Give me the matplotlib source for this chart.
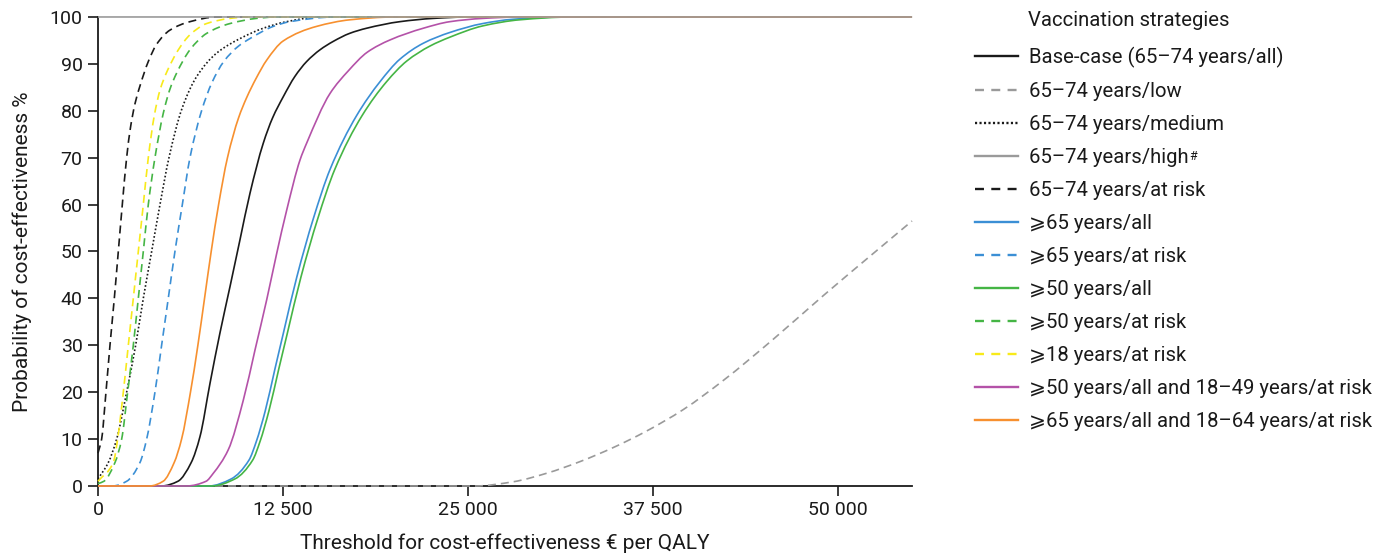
import matplotlib
matplotlib.use("Agg")
import numpy as np
import matplotlib.pyplot as plt
from matplotlib.lines import Line2D
from matplotlib.path import Path
from matplotlib.patches import PathPatch

plt.rcParams['font.family'] = ['Roboto', 'DejaVu Sans']

# ---- data (threshold € per QALY, probability %) ----
base_x = [0, 4300, 5400, 6300, 6890, 7570, 8240, 8920, 9595, 10270, 11170, 11800, 12520, 13300, 14100, 15000, 15900, 17000, 18150, 20400, 22660, 25000, 55000]
base_y = [0, 0, 1, 5, 10.5, 21.9, 32.6, 42.5, 52.5, 62.4, 73.1, 78.5, 83, 87.3, 90.5, 93, 94.8, 96.5, 97.6, 99, 99.7, 100, 100]

low_x = [0, 25500, 28060, 30300, 32570, 34820, 37000, 39550, 42250, 45630, 49010, 52390, 55000]
low_y = [0, 0, 0.9, 2.7, 5.2, 8.2, 11.6, 16.3, 22.5, 31.3, 40.6, 49.6, 56.5]

med_x = [0, 698, 1262, 1937, 2545, 3063, 3627, 4190, 4797, 5680, 6670, 8020, 9600, 11170, 12750, 15000, 55000]
med_y = [1.5, 5, 10, 20, 30, 40, 50, 60, 70, 80.5, 87.3, 92.3, 95.4, 97.6, 99, 100, 100]

high_x = [0, 55000]
high_y = [100, 100]

risk6574_x = [0, 248, 540, 811, 1104, 1374, 1644, 1937, 2200, 2500, 2838, 3400, 3966, 4865, 6216, 8000, 55000]
risk6574_y = [7, 10, 20, 30, 40, 50, 60, 70, 76.5, 81.5, 85.3, 90.5, 94.2, 97.2, 99, 100, 100]

all65_x = [0, 7500, 9000, 10200, 10700, 11300, 11960, 12520, 13430, 14550, 15680, 17480, 19055, 20400, 21980, 23780, 26000, 28000, 31400, 55000]
all65_y = [0, 0, 1.5, 5.5, 9.5, 16, 25, 32.5, 44.5, 57, 67.5, 79, 86.2, 91, 94.4, 96.7, 98.6, 99.5, 100, 100]

risk65_x = [0, 1000, 1937, 2838, 3290, 3850, 4300, 4750, 5200, 5700, 6216, 7000, 7700, 8500, 9500, 10270, 11850, 12970, 16000, 55000]
risk65_y = [0, 0, 1, 5, 10, 20, 30, 40, 50, 60, 70, 80, 86, 90.5, 93.8, 95.4, 98, 99, 100, 100]

all50_x = [0, 7700, 9250, 10450, 10950, 11550, 12220, 12790, 13710, 14850, 16000, 17850, 19500, 20860, 22430, 23780, 26000, 28500, 32000, 55000]
all50_y = [0, 0, 1.5, 5.5, 9.5, 16, 25, 32.5, 44.5, 57, 67.5, 79, 86.2, 90.6, 93.8, 95.7, 98.1, 99.4, 100, 100]

risk50_x = [0, 400, 1149, 1600, 2004, 2387, 2725, 3063, 3400, 3850, 4415, 4850, 5310, 6216, 7340, 8920, 10720, 12000, 55000]
risk50_y = [0.5, 1, 5, 10, 20, 30, 40, 50, 60, 70, 79.5, 84.5, 88, 93, 96.5, 98.6, 99.7, 100, 100]

risk18_x = [0, 1036, 1329, 1712, 2050, 2387, 2725, 3063, 3400, 3807, 4200, 4640, 5430, 6216, 7340, 8920, 10000, 55000]
risk18_y = [1, 5, 10, 20, 30, 40, 50, 60, 70, 79, 84.5, 88.2, 93, 96.2, 98.6, 99.7, 100, 100]

mix50_x = [0, 6000, 7300, 7790, 8800, 9820, 10610, 11400, 12070, 12750, 13650, 14100, 15680, 16910, 18200, 19730, 21980, 23780, 26000, 28500, 55000]
mix50_y = [0, 0, 1, 2.7, 7.7, 18.3, 29, 39.7, 49.5, 58.8, 69.5, 73.1, 83.7, 88.5, 92.5, 95.1, 97.6, 99, 99.7, 100, 100]

mix65_x = [0, 3500, 4400, 5150, 5650, 6250, 6750, 7200, 7650, 8150, 8750, 9500, 10045, 10700, 11400, 12520, 14780, 17030, 20000, 55000]
mix65_y = [0, 0, 1, 5, 10, 20, 30, 40, 50, 60, 70, 78.5, 82.8, 87, 90.8, 94.9, 98, 99.4, 100, 100]

labels = [
    "Base-case (65–74 years/all)",
    "65–74 years/low",
    "65–74 years/medium",
    "65–74 years/high",
    "65–74 years/at risk",
    "⩾65 years/all",
    "⩾65 years/at risk",
    "⩾50 years/all",
    "⩾50 years/at risk",
    "⩾18 years/at risk",
    "⩾50 years/all and 18–49 years/at risk",
    "⩾65 years/all and 18–64 years/at risk",
]
legend_title = "Vaccination strategies"
xticks = [0, 12500, 25000, 37500, 50000]
xticklabels = ["0", "12 500", "25 000", "37 500", "50 000"]
yticks = list(range(0, 101, 10))

BLACK = "#1a1a1a"
BLUE = "#3b8fd5"
GREEN = "#45b545"
YELLOW = "#f8ea1a"
MAGENTA = "#b452a8"
ORANGE = "#f7902f"
GREY = "#9a9a9a"
DASH = (0, (4.8, 3.0))
DOT = (0, (1.0, 1.3))
HDASH = (0, (3.8, 3.1))
HDOT = (0, (0.9, 1.0))

series = [
    (base_x, base_y, BLACK, "-"),
    (low_x, low_y, GREY, "dash"),
    (med_x, med_y, BLACK, "dot"),
    (high_x, high_y, GREY, "-"),
    (risk6574_x, risk6574_y, BLACK, "dash"),
    (all65_x, all65_y, BLUE, "-"),
    (risk65_x, risk65_y, BLUE, "dash"),
    (all50_x, all50_y, GREEN, "-"),
    (risk50_x, risk50_y, GREEN, "dash"),
    (risk18_x, risk18_y, YELLOW, "dash"),
    (mix50_x, mix50_y, MAGENTA, "-"),
    (mix65_x, mix65_y, ORANGE, "-"),
]
plot_ls = {"-": "-", "dash": DASH, "dot": DOT}
hand_ls = {"-": "-", "dash": HDASH, "dot": HDOT}


def smooth_path(xs, ys):
    """Monotone cubic (PCHIP-style) Bezier path through the read points."""
    x = np.asarray(xs, float)
    y = np.asarray(ys, float)
    n = len(x)
    h = np.diff(x)
    d = np.diff(y) / h
    m = np.zeros(n)
    m[0] = d[0]
    m[-1] = d[-1]
    for k in range(1, n - 1):
        if d[k - 1] * d[k] <= 0:
            m[k] = 0.0
        else:
            w1 = 2 * h[k] + h[k - 1]
            w2 = h[k] + 2 * h[k - 1]
            m[k] = (w1 + w2) / (w1 / d[k - 1] + w2 / d[k])
    if n == 2:
        m[:] = d[0]
    verts = [(x[0], y[0])]
    codes = [Path.MOVETO]
    for k in range(n - 1):
        dx = h[k] / 3.0
        verts += [(x[k] + dx, y[k] + m[k] * dx),
                  (x[k + 1] - dx, y[k + 1] - m[k + 1] * dx),
                  (x[k + 1], y[k + 1])]
        codes += [Path.CURVE4] * 3
    return Path(verts, codes)


LW = 1.2
HLW = 1.7
fig = plt.figure(figsize=(13.76, 5.53), dpi=100)
ax = fig.add_axes([0.0712, 0.1212, 0.5916, 0.8481])

handles = []
for (xs, ys, col, ls), lab in zip(series, labels):
    z = 5 if lab.endswith("high") else 3
    patch = PathPatch(smooth_path(xs, ys), fill=False, edgecolor=col,
                      linestyle=plot_ls[ls], linewidth=LW, clip_on=False, zorder=z)
    ax.add_patch(patch)
    handles.append(Line2D([], [], color=col, linestyle=hand_ls[ls], linewidth=HLW))

ax.set_xlim(0, 55000)
ax.set_ylim(0, 100)
ax.set_xticks(xticks)
ax.set_xticklabels(xticklabels)
ax.set_yticks(yticks)
for s in ["top", "right"]:
    ax.spines[s].set_visible(False)
for s in ["left", "bottom"]:
    ax.spines[s].set_linewidth(1.3)
    ax.spines[s].set_color(BLACK)
ax.tick_params(axis="both", direction="out", length=7, width=1.2, labelsize=14,
               colors=BLACK, pad=4)
ax.set_xlabel("Threshold for cost-effectiveness € per QALY", fontsize=15, color=BLACK, labelpad=10)
ax.set_ylabel("Probability of cost-effectiveness %", fontsize=15, color=BLACK, labelpad=13)

W, H = 1376.0, 553.0
LFS = 14.6
leg = fig.legend(handles=handles, labels=labels, loc="upper left",
                 bbox_to_anchor=(975 / W, 1 - 47 / H), frameon=False, fontsize=LFS,
                 handlelength=2.1, handletextpad=0.55, labelspacing=0.69,
                 borderpad=0, borderaxespad=0)
for t in leg.get_texts():
    t.set_color(BLACK)
fig.text(1028 / W, 1 - 20 / H, legend_title, fontsize=LFS, color=BLACK,
         ha="left", va="center")

# superscript "#" after the "high" entry
fig.canvas.draw()
txt = leg.get_texts()[3]
bb = txt.get_window_extent()
fig.text((bb.x1 + 1) / W, (bb.y1 - 2) / H, "#", fontsize=9, color=BLACK,
         ha="left", va="top")

fig.savefig("out.png", dpi=100)
